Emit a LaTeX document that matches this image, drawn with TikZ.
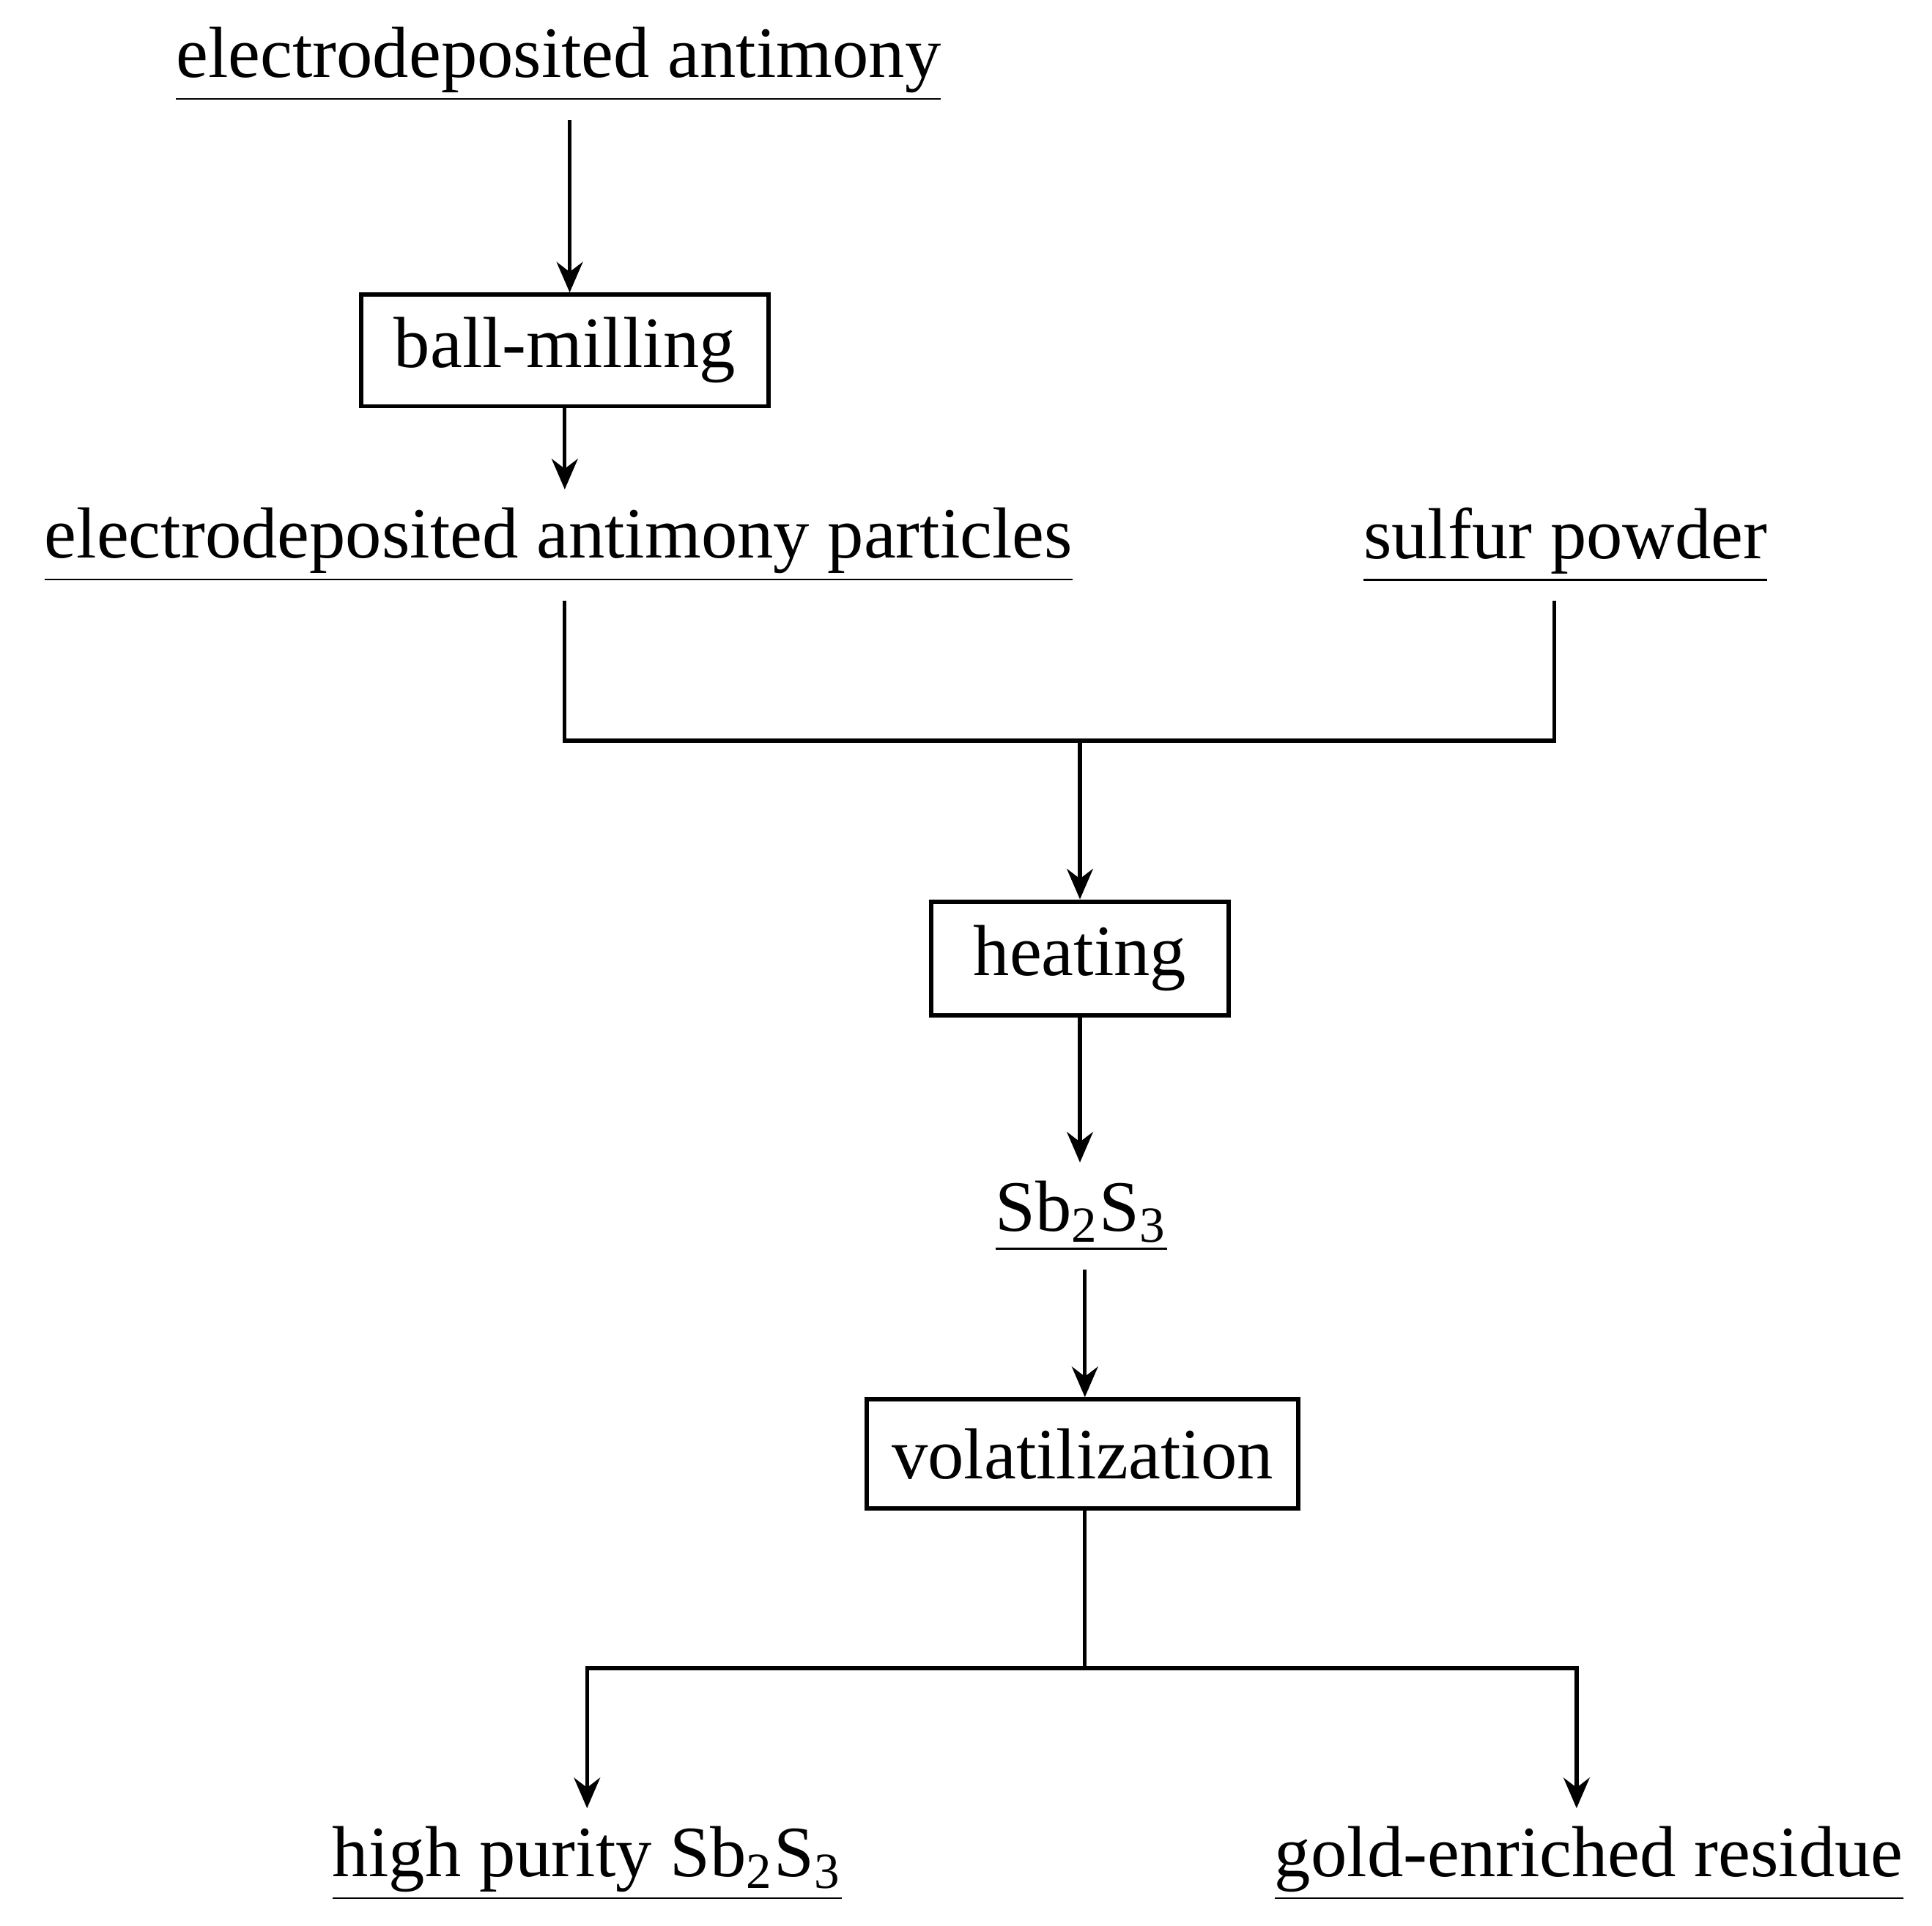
\documentclass[tikz,border=0pt]{standalone}
\usepackage{fontspec}
\setmainfont{Liberation Serif}
\usetikzlibrary{arrows.meta}
\begin{document}
\begin{tikzpicture}[x=0.01cm,y=-0.01cm,
  txt/.style={inner xsep=0pt,inner ysep=4pt,font=\fontsize{16.6}{20}\selectfont},
  box/.style={draw,line width=1pt,inner sep=0pt,font=\fontsize{16.6}{20}\selectfont},
  ln/.style={line width=0.9pt},
  ar/.style={ln,-{Stealth[length=7pt,width=6pt]}}]
\useasboundingbox (0,0) rectangle (1560,1555);
\node[txt] (ea) at (451,52) {\underline{electrodeposited antimony}};
\node[box,minimum width=3.29cm,minimum height=0.9cm] (bm) at (456,283) {ball-milling};
\node[txt] (eap) at (451,440) {\underline{electrodeposited antimony particles}};
\node[txt] (sp) at (1264,440) {\underline{sulfur powder}};
\node[box,minimum width=2.4cm,minimum height=0.92cm] (ht) at (872,774) {heating};
\node[txt] (sb) at (873,982) {\underline{Sb\textsubscript{2}S\textsubscript{3}}};
\node[box,minimum width=3.48cm,minimum height=0.88cm] (vo) at (874,1174) {volatilization};
\node[txt] (hp) at (474,1505) {\underline{high purity Sb\textsubscript{2}S\textsubscript{3}}};
\node[txt] (gr) at (1283,1505) {\underline{gold-enriched residue}};
\coordinate (j1) at (872,598);
\coordinate (j2) at (876,1347);
\draw[ar] (ea.south -| 460,0) -- (bm.north -| 460,0);
\draw[ar] (bm.south -| 456,0) -- (eap.north -| 456,0);
\draw[ln] (eap.south -| 456,0) |- (j1) -| (sp.south -| 1255,0);
\draw[ar] (j1) -- (ht.north);
\draw[ar] (ht.south) -- (sb.north -| 872,0);
\draw[ar] (sb.south -| 876,0) -- (vo.north -| 876,0);
\draw[ln] (vo.south -| 876,0) -- (j2);
\draw[ar] (j2) -| (hp.north);
\draw[ar] (j2) -| (gr.north -| 1273,0);
\end{tikzpicture}
\end{document}
